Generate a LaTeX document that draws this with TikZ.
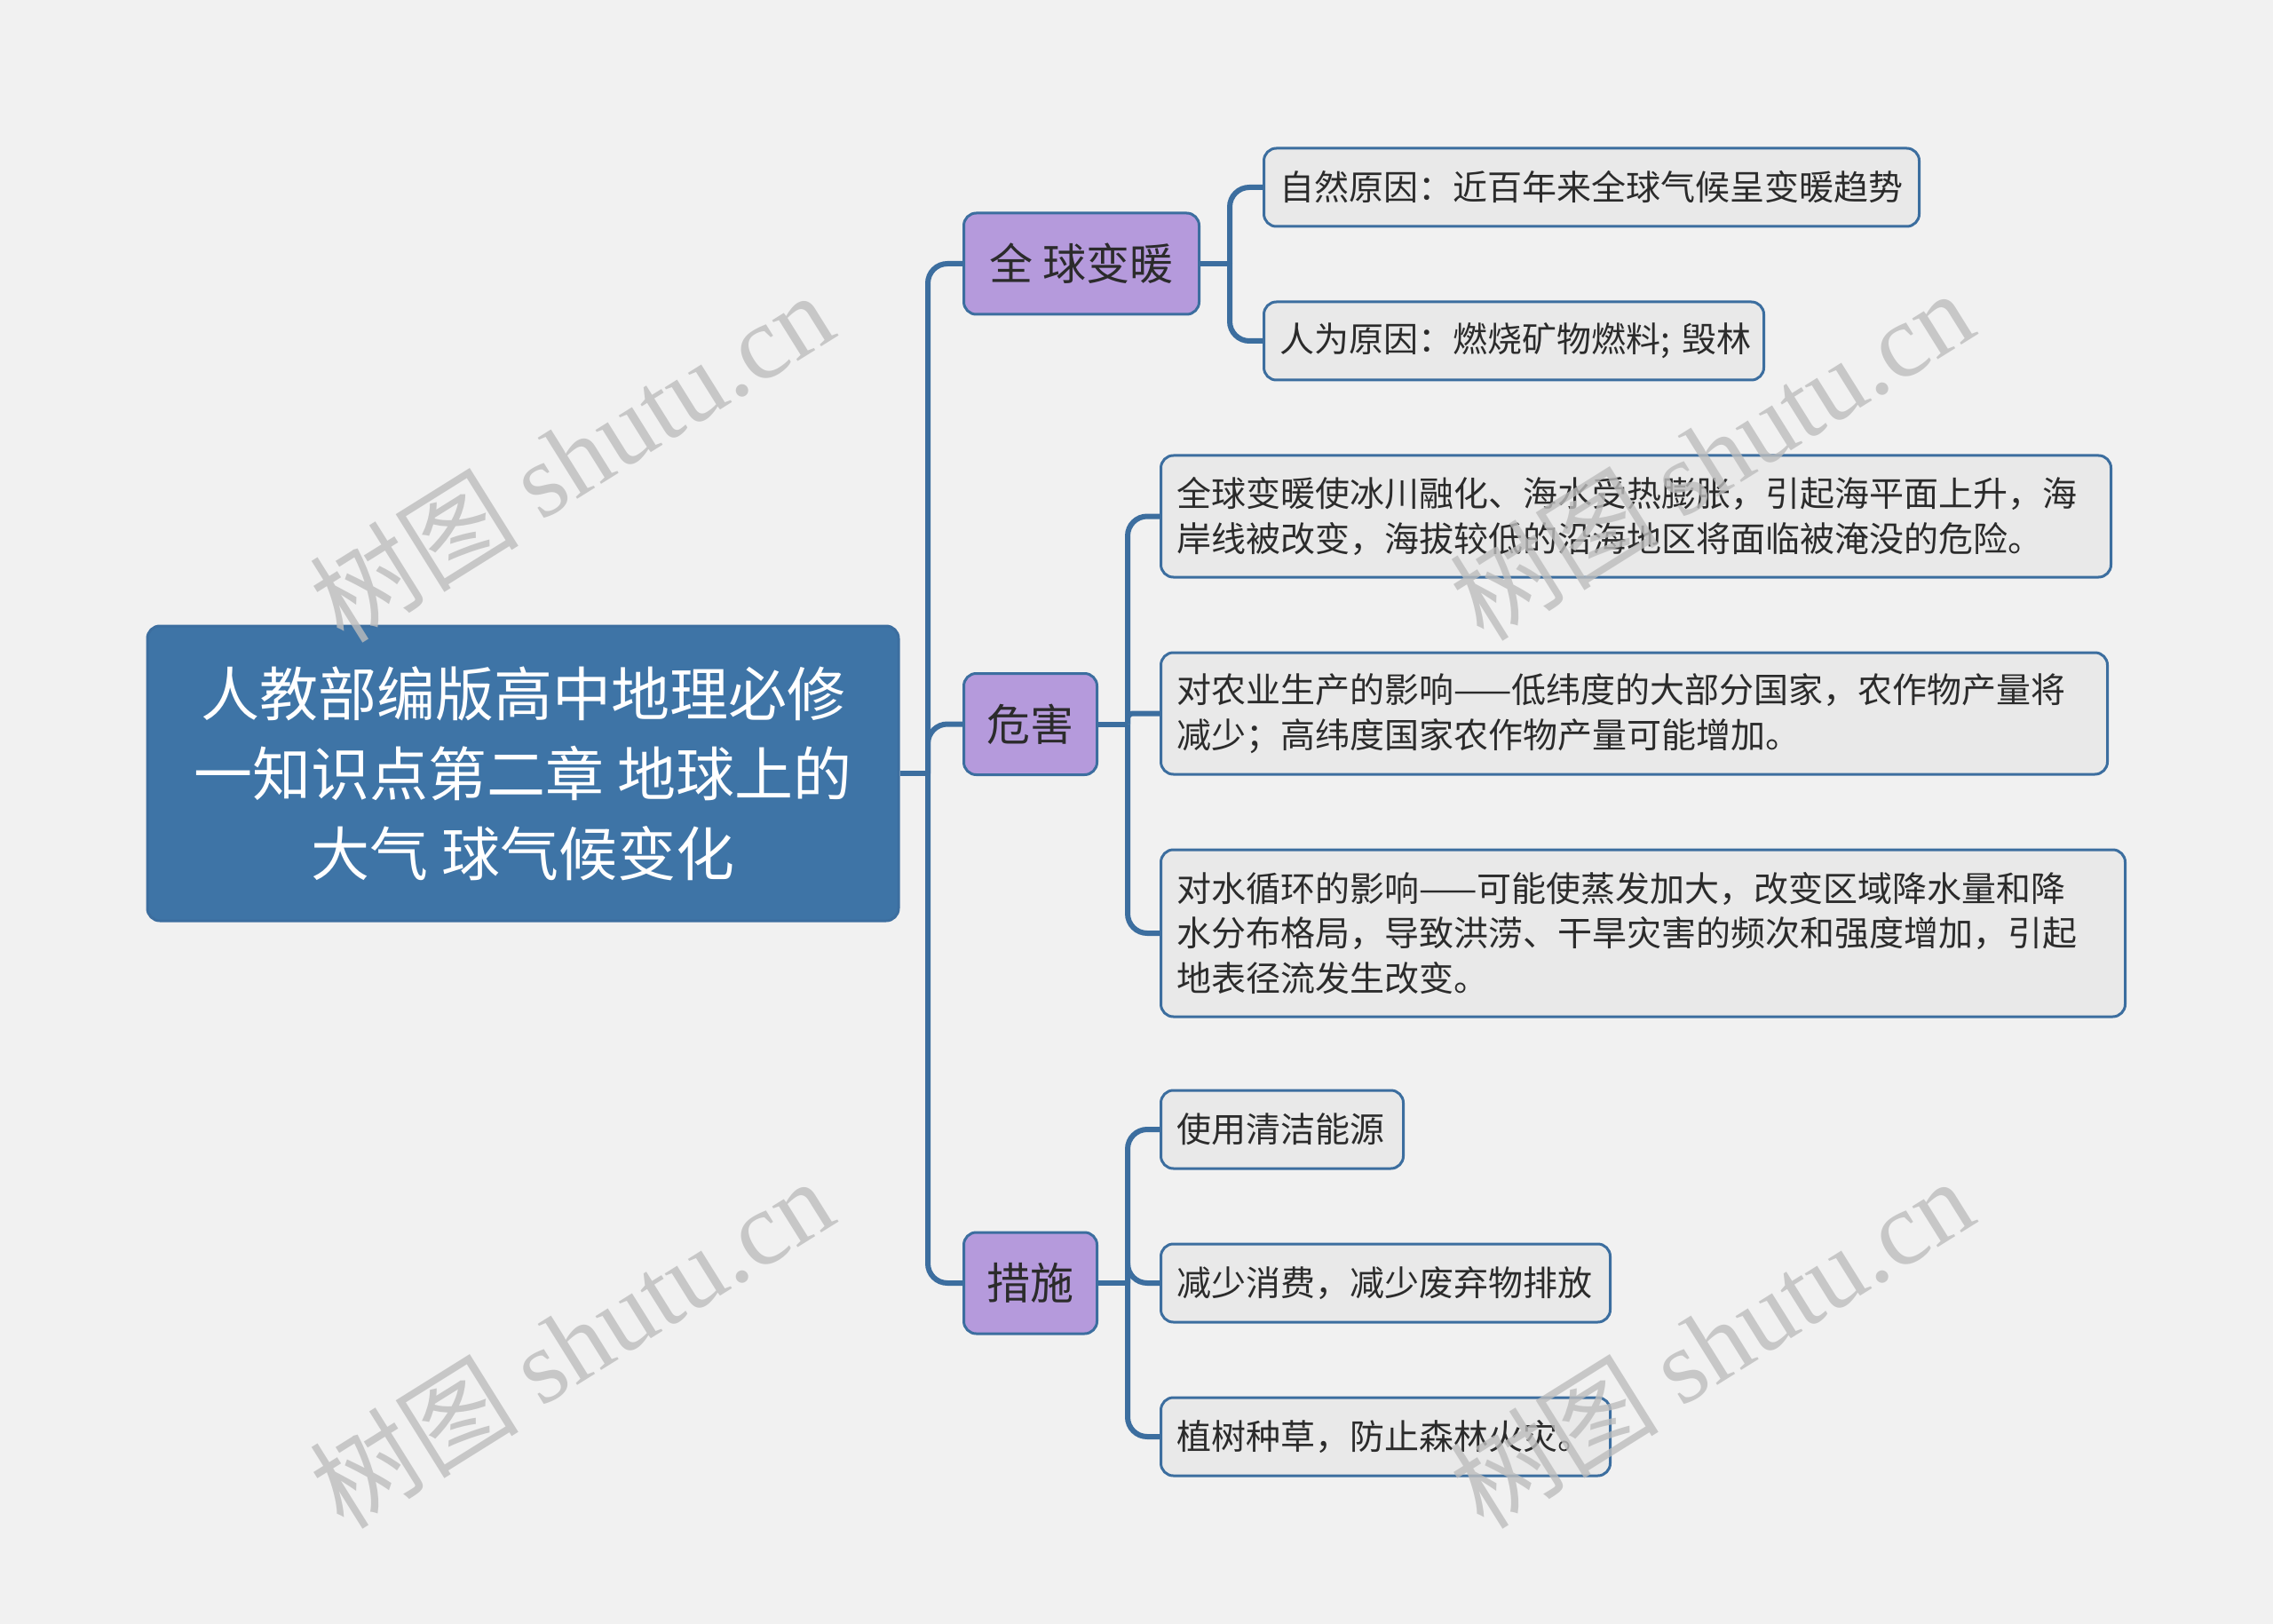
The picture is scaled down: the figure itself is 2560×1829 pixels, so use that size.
\documentclass[tikz,border=0pt]{standalone}
\usepackage{fontspec}
\setmainfont{Noto Sans CJK SC}
\newfontfamily\wmlatin{Liberation Serif}
\definecolor{bgc}{HTML}{F1F1F1}
\definecolor{linec}{HTML}{3C6E9F}
\definecolor{rootc}{HTML}{3E74A6}
\definecolor{topicc}{HTML}{B59ADC}
\definecolor{leafc}{HTML}{E9E9E9}
\definecolor{textc}{HTML}{2B2B2B}
\definecolor{wmc}{HTML}{BDBDBD}
\tikzstyle{every picture}+=[x=0.5pt,y=-0.5pt]
\tikzstyle{every picture}+=[line join=round]
\tikzstyle{link}=[draw=linec,line width=3pt,rounded corners=11pt]
\tikzstyle{rootbox}=[draw=linec,fill=rootc,line width=1.5pt,rounded corners=7pt,
  minimum width=423pt,minimum height=166pt,align=center,text=white,
  font=\fontsize{33pt}{45pt}\selectfont]
\tikzstyle{topic}=[draw=linec,fill=topicc,line width=1.5pt,rounded corners=7pt,
  minimum height=57pt,anchor=west,text=textc,font=\fontsize{24.5pt}{30pt}\selectfont]
\tikzstyle{leaf}=[draw=linec,fill=leafc,line width=1.5pt,rounded corners=7pt,
  anchor=west,align=left,inner xsep=9pt,text=textc,
  font=\fontsize{19.5pt}{25.3pt}\selectfont]
\tikzstyle{wmark}=[text=wmc,opacity=0.8,rotate=32,font=\fontsize{59pt}{59pt}\selectfont]
\begin{document}
\begin{tikzpicture}
\fill[bgc] (0,0) rectangle (2560,1829);
\useasboundingbox (0,0) rectangle (2560,1829);

% root and main topics
\node[rootbox] (root) at (589,871) {人教部编版高中地理必修\\一知识点第二章 地球上的\\大气 球气候变化};
\node[topic,minimum width=132.5pt] (warm) at (1084,297) {全 球变暖};
\node[topic,minimum width=75pt] (harm) at (1084,815.5) {危害};
\node[topic,minimum width=75pt] (meas) at (1084,1445) {措施};

% leaves
\node[leaf,text width=351pt,minimum height=44pt] (a1) at (1422,211) {自然原因：近百年来全球气候呈变暖趋势};
\node[leaf,text width=263.5pt,minimum height=44pt] (a2) at (1422,384) {\mbox{人为原因：燃烧矿物燃料;~毁林}};
\node[leaf,text width=517pt,minimum height=68.5pt] (b1) at (1306,581.5) {全球变暖使冰川融化、海水受热膨胀，引起海平面上升，海\\岸线被改变，海拔较低的沿海地区将面临被淹没的危险。};
\node[leaf,text width=515pt,minimum height=68.5pt] (b2) at (1306,803.5) {对农业生产的影响——低纬度的大部分国家，农作物产量将\\减少；高纬度国家农作物产量可能增加。};
\node[leaf,text width=525pt,minimum height=94pt] (b3) at (1306,1051) {对水循环的影响——可能使蒸发加大，改变区域降水量和降\\水分布格局，导致洪涝、干旱灾害的频次和强度增加，引起\\地表径流发生改变。};
\node[leaf,text width=118.5pt,minimum height=44pt] (c1) at (1306,1272) {使用清洁能源};
\node[leaf,text width=235pt,minimum height=44pt] (c2) at (1306,1445) {减少消费，减少废弃物排放};
\node[leaf,text width=235pt,minimum height=44pt] (c3) at (1306,1618) {植树种草，防止森林火灾。};

% connectors
\coordinate (rt) at (1045,871);
\coordinate (wt) at (1385,297);
\coordinate (ht) at (1270,815.5);
\coordinate (mt) at (1270,1445);
\draw[link] (root.east) -- (rt);
\foreach \n in {warm,harm,meas} \draw[link] (rt) |- (\n.west);
\draw[link] (warm.east) -- (wt);
\foreach \n in {a1,a2} \draw[link] (wt) |- (\n.west);
\draw[link] (harm.east) -- (ht);
\foreach \n in {b1,b3} \draw[link] (ht) |- (\n.west);
\draw[link,rounded corners=3pt] (ht) |- (b2.west);
\draw[link] (meas.east) -- (mt);
\foreach \n in {c1,c2,c3} \draw[link] (mt) |- (\n.west);

% watermark
\node[wmark] (wm1) at (643,514) {树图 {\wmlatin shutu.cn}};
\node[wmark] (wm2) at (1927,512) {树图 {\wmlatin shutu.cn}};
\node[wmark] (wm3) at (643,1512) {树图 {\wmlatin shutu.cn}};
\node[wmark] (wm4) at (1927,1512) {树图 {\wmlatin shutu.cn}};
\end{tikzpicture}
\end{document}
